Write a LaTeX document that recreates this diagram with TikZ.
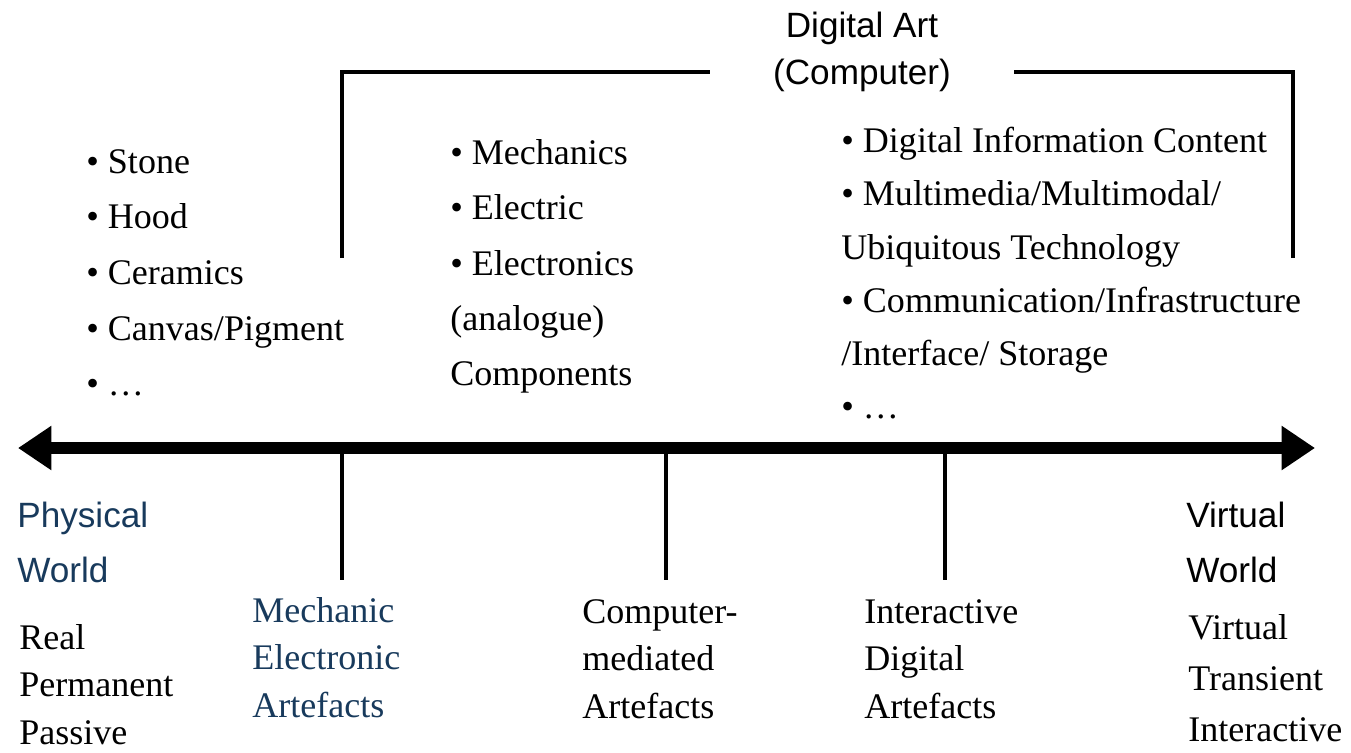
\documentclass[tikz,border=0pt]{standalone}
\usepackage{fontspec}
\setmainfont{Liberation Serif}
\setsansfont{Liberation Sans}
\usepackage{xcolor}
\usepackage{tikz}
\usetikzlibrary{arrows.meta,positioning,calc}
\definecolor{phys-blue}{RGB}{24,58,92}

\begin{document}
\begin{tikzpicture}[
    x=0.02cm, y=-0.02cm,
    item/.style={anchor=north west, inner sep=0pt, align=left, font=\fontsize{20.5}{31.5}\selectfont},
    lowtext/.style={anchor=north west, inner sep=0pt, align=left, font=\fontsize{20.5}{27}\selectfont},
    world/.style={anchor=north west, inner sep=0pt, align=left, font=\sffamily\fontsize{20}{31}\selectfont},
    axis/.style={{Triangle[length=19pt,width=24pt]}-{Triangle[length=19pt,width=24pt]}, line width=6.8pt},
    tick/.style={line width=2pt},
    bracket/.style={line width=2pt}
]
\useasboundingbox (0,0) rectangle (1351,752);

% Digital art bracket
\node[font=\sffamily\fontsize{20}{26.6}\selectfont, align=center, inner xsep=1.26cm, inner ysep=0pt, anchor=north] (digart) at (862,12) {Digital Art\\(Computer)};
\coordinate (lfoot) at (342,258);
\coordinate (ltop) at (342,72);
\coordinate (rfoot) at (1293,258);
\coordinate (rtop) at (1293,72);
\draw[bracket] (lfoot) -- (ltop) -- (ltop -| digart.west);
\draw[bracket] (rfoot) -- (rtop) -- (rtop -| digart.east);

% Lists above the axis
\node[item, font=\fontsize{20.5}{31.7}\selectfont] (material) at (86,149) {• Stone\\• Hood\\• Ceramics\\• Canvas/Pigment\\• …};
\node[item] (mechlist) at (450,139) {• Mechanics\\• Electric\\• Electronics\\(analogue)\\Components};
\node[item, font=\fontsize{20.5}{30.3}\selectfont] (diglist) at (841,127) {• Digital Information Content\\• Multimedia/Multimodal/\\Ubiquitous Technology\\• Communication/Infrastructure\\/Interface/ Storage\\• …};

% Axis
\coordinate (west) at (18,448);
\coordinate (east) at (1315,448);
\draw[axis] (west) -- (east);

\foreach \x/\n in {342/mech, 666/comp, 945/inter} {
  \coordinate (\n-top) at (\x,448);
  \coordinate (\n-bot) at (\x,580);
  \draw[tick] (\n-top) -- (\n-bot);
}

% Ends of the axis
\node[world, text=phys-blue] (physical) at (17,502) {Physical\\World};
\node[world] (virtual) at (1186,502) {Virtual\\World};
\node[lowtext] (real) at (19,624) {Real\\Permanent\\Passive};
\node[lowtext, font=\fontsize{20.5}{29}\selectfont] (transient) at (1188,614) {Virtual\\Transient\\Interactive};

% Artefacts
\node[lowtext, text=phys-blue] (mechanic) at (252,597) {Mechanic\\Electronic\\Artefacts};
\node[lowtext] (mediated) at (582,599) {Computer-\\mediated\\Artefacts};
\node[lowtext] (interactive) at (864,599) {Interactive\\Digital\\Artefacts};

\end{tikzpicture}
\end{document}
